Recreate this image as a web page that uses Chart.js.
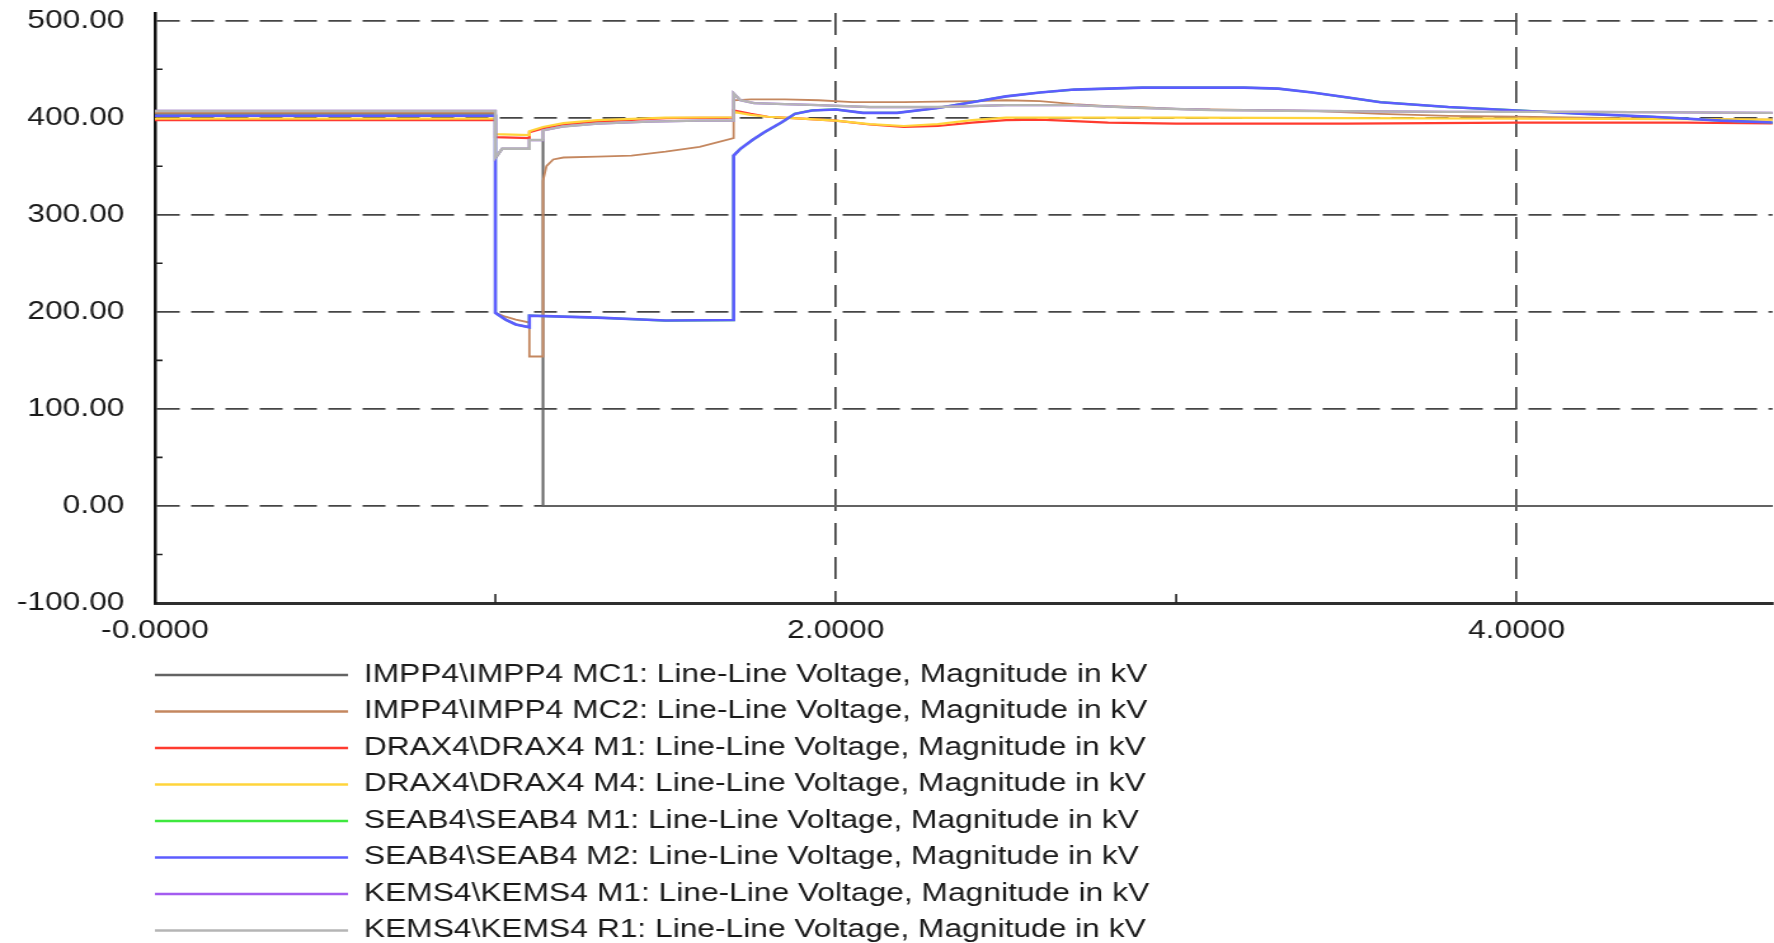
<!DOCTYPE html>
<html>
<head>
<meta charset="utf-8">
<script src="https://cdn.jsdelivr.net/npm/chart.js@4.4.1/dist/chart.umd.min.js"></script>
<style>
  html, body { margin: 0; padding: 0; background: #fff; overflow: hidden; }
  /* the source screenshot is stretched sideways, so the chart is too */
  #wrap { position: absolute; left: 0; top: 0; width: 1397px; height: 943px; transform: scaleX(1.27); transform-origin: 0 0; }
</style>
</head>
<body>
<div id="wrap"><canvas id="plot"></canvas></div>
<script>
// time in s, voltage in kV
const mc1Time = [0, 1.0, 1.0, 1.02, 1.10, 1.10, 1.14, 1.14, 4.76];
const mc1Volt = [404, 404, 358, 368, 368, 377, 377, 0, 0];

const mc2Time = [0, 1.0, 1.0, 1.03, 1.06, 1.10, 1.10, 1.14, 1.14, 1.15, 1.17, 1.20, 1.30, 1.40, 1.50, 1.60, 1.70, 1.70, 1.75, 1.85, 1.95, 2.05, 2.2, 2.4, 2.5, 2.6, 2.7, 2.8, 2.9, 3.0, 3.2, 3.4, 3.6, 3.8, 4.0, 4.4, 4.76];
const mc2Volt = [405, 405, 199, 195, 192, 189, 154, 154, 335, 350, 357, 359, 360, 361, 365, 370, 379, 418, 419, 419, 418, 416, 416, 417, 418, 417, 414, 412, 411, 409, 408, 407, 404, 402, 401, 399, 398];

const drax1Time = [0, 1.0, 1.0, 1.10, 1.10, 1.14, 1.2, 1.3, 1.5, 1.70, 1.70, 1.75, 1.8, 1.9, 2.0, 2.1, 2.2, 2.3, 2.4, 2.5, 2.6, 2.7, 2.8, 3.0, 3.5, 4.0, 4.5, 4.76];
const drax1Volt = [397.5, 397.5, 380, 379, 385, 389, 393, 396, 399.5, 400, 407.5, 404, 401, 399, 397, 393, 390.5, 391.5, 395, 397.5, 398, 396.5, 395, 394, 394, 395, 395, 394];

const drax4Time = [0, 1.0, 1.0, 1.10, 1.10, 1.14, 1.2, 1.3, 1.5, 1.70, 1.70, 1.75, 1.8, 1.9, 2.0, 2.1, 2.2, 2.3, 2.4, 2.5, 3.0, 3.5, 4.0, 4.5, 4.76];
const drax4Volt = [399, 399, 383, 382, 386, 390.5, 394.5, 397.5, 400, 400.5, 406, 403, 401, 399, 397, 393.5, 391.5, 393.5, 397.5, 400, 400, 399.5, 399, 398.5, 398];

const seab2Time = [0, 1.0, 1.0, 1.03, 1.06, 1.10, 1.10, 1.3, 1.5, 1.70, 1.70, 1.72, 1.755, 1.79, 1.84, 1.88, 1.93, 2.0, 2.08, 2.18, 2.3, 2.4, 2.5, 2.6, 2.7, 2.8, 2.9, 3.0, 3.2, 3.3, 3.4, 3.5, 3.6, 3.8, 4.0, 4.2, 4.4, 4.6, 4.76];
const seab2Volt = [402, 402, 199, 192, 187, 184, 196, 194, 191, 191.5, 361, 368, 377, 385, 395, 404, 407.5, 408.5, 405, 405, 410, 416, 422, 426, 429, 430, 431, 431, 431, 430, 426, 421, 416, 411, 407.5, 404, 401, 397, 395];

const r1Time = [0, 1.0, 1.0, 1.02, 1.10, 1.10, 1.14, 1.14, 1.2, 1.3, 1.45, 1.6, 1.70, 1.70, 1.72, 1.76, 1.85, 1.95, 2.1, 2.3, 2.5, 2.7, 2.9, 3.1, 3.4, 3.8, 4.2, 4.76];
const r1Volt = [407, 407, 359, 368, 368, 377, 377, 387, 391, 394, 396, 397, 397, 425, 418, 415, 414, 413, 411, 411, 413, 413, 410, 408, 407, 406, 406, 405];

const seriesNames = [
    "IMPP4\\IMPP4 MC1: Line-Line Voltage, Magnitude in kV",
    "IMPP4\\IMPP4 MC2: Line-Line Voltage, Magnitude in kV",
    "DRAX4\\DRAX4 M1: Line-Line Voltage, Magnitude in kV",
    "DRAX4\\DRAX4 M4: Line-Line Voltage, Magnitude in kV",
    "SEAB4\\SEAB4 M1: Line-Line Voltage, Magnitude in kV",
    "SEAB4\\SEAB4 M2: Line-Line Voltage, Magnitude in kV",
    "KEMS4\\KEMS4 M1: Line-Line Voltage, Magnitude in kV",
    "KEMS4\\KEMS4 R1: Line-Line Voltage, Magnitude in kV"
];
// SEAB4 M1 and KEMS4 M1 are not visible: they sit under SEAB4 M2 and KEMS4 R1
const seriesTimes = [mc1Time, mc2Time, drax1Time, drax4Time, seab2Time, seab2Time, r1Time, r1Time];
const seriesVolts = [mc1Volt, mc2Volt, drax1Volt, drax4Volt, seab2Volt, seab2Volt, r1Volt, r1Volt];
const seriesColors = ['#636363', '#c4875f', '#ff3b2f', '#ffd43b', '#3ee83e', '#5c5cff', '#a35cf0', '#b5b5b5'];
const seriesWidths = [2, 1.8, 2.2, 2.2, 2.2, 2.6, 2.2, 2.4];

const xTickValues = [0, 2, 4];
const xTickLabels = ['-0.0000', '2.0000', '4.0000'];
const xMinor = [1, 3];
const yTickValues = [-100, 0, 100, 200, 300, 400, 500];
const yMinor = [-50, 50, 150, 250, 350, 450];

function pts(times, volts) {
    return times.map((t, i) => ({x: t, y: volts[i]}));
}

const minorTicks = {
    id: 'minorTicks',
    beforeDraw(chart) {
        // legend rows start right under the y axis
        if (chart.legend) chart.legend.left = chart.chartArea.left - chart.legend.options.labels.padding;
    },
    beforeDatasetsDraw(chart) {
        const {ctx, chartArea, scales} = chart;
        ctx.save();
        ctx.strokeStyle = '#222';
        ctx.lineWidth = 1.6;
        ctx.beginPath();
        yMinor.forEach(v => {
            const py = scales.y.getPixelForValue(v);
            ctx.moveTo(chartArea.left, py);
            ctx.lineTo(chartArea.left + 6, py);
        });
        xMinor.forEach(v => {
            const px = scales.x.getPixelForValue(v);
            ctx.moveTo(px, chartArea.bottom);
            ctx.lineTo(px, chartArea.bottom - 9);
        });
        ctx.stroke();
        ctx.restore();
    }
};

Chart.defaults.font.family = "'Liberation Sans', Arial, sans-serif";
Chart.defaults.color = '#1a1a1a';

const datasets = seriesNames.map((name, i) => ({
    label: name,
    data: pts(seriesTimes[i], seriesVolts[i]),
    borderColor: seriesColors[i],
    backgroundColor: seriesColors[i],
    borderWidth: seriesWidths[i],
    pointRadius: 0,
    tension: 0,
    order: seriesNames.length - i   // later series on top
}));

const config = {
    type: 'line',
    data: {datasets: datasets},
    plugins: [minorTicks],
    options: {
        responsive: true,
        maintainAspectRatio: false,
        animation: false,
        layout: {padding: {left: 13, top: 13, right: 0, bottom: -10}},
        plugins: {
            tooltip: {enabled: false},
            legend: {
                position: 'bottom',
                align: 'start',
                fullSize: false,
                labels: {
                    boxWidth: 152,
                    boxHeight: 2.6,
                    padding: 11.5,
                    font: {size: 25},
                    color: '#1a1a1a',
                    sort: (a, b) => a.datasetIndex - b.datasetIndex,
                    generateLabels: (chart) => Chart.defaults.plugins.legend.labels.generateLabels(chart)
                        .map(l => Object.assign(l, {lineWidth: 0, fillStyle: seriesColors[l.datasetIndex]}))
                }
            }
        },
        scales: {
            x: {
                type: 'linear',
                min: 0,
                max: 4.752,
                afterBuildTicks: (scale) => { scale.ticks = xTickValues.map(v => ({value: v})); },
                afterFit: (scale) => { scale.height = 48; },
                ticks: {
                    padding: 8,
                    font: {size: 25, lineHeight: 1.6},
                    maxRotation: 0,
                    callback: (value) => xTickLabels[xTickValues.indexOf(value)]
                },
                grid: {
                    drawTicks: false,
                    lineWidth: 1.7,
                    color: (c) => c.tick && c.tick.value === 0 ? 'rgba(0,0,0,0)' : '#404040'
                },
                border: {display: true, color: '#2e2e2e', width: 3, dash: [22, 12]}
            },
            y: {
                min: -100,
                max: 507.9,
                afterBuildTicks: (scale) => { scale.ticks = yTickValues.map(v => ({value: v})); },
                afterFit: (scale) => { scale.width = 109; scale.paddingTop = 0; scale.paddingBottom = 0; },
                ticks: {
                    padding: 24,
                    font: {size: 25},
                    callback: (value) => value.toFixed(2)
                },
                grid: {
                    drawTicks: false,
                    lineWidth: 1.7,
                    color: (c) => c.tick && c.tick.value === -100 ? 'rgba(0,0,0,0)' : '#454545'
                },
                border: {display: true, color: '#111', width: 2.5, dash: [18, 9]}
            }
        }
    }
};

const myChart = new Chart('plot', config);
</script>
</body>
</html>
